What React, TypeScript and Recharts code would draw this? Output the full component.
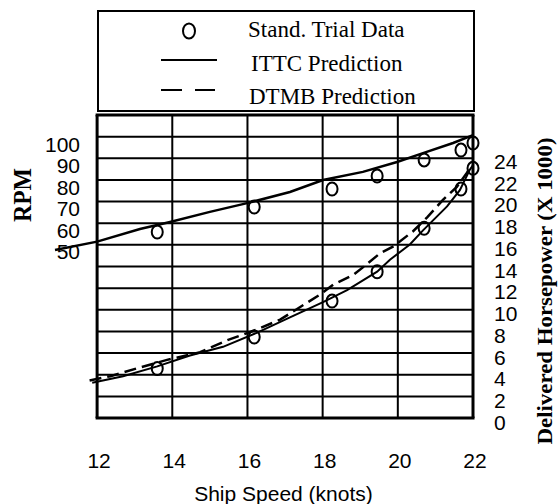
import React from 'react';
import { ComposedChart, Line, Scatter, XAxis, YAxis, Legend, Label } from 'recharts';

const xTicks = [12, 14, 16, 18, 20, 22];
const rpmTicks = [50, 60, 70, 80, 90, 100];
const hpTicks = [0, 2, 4, 6, 8, 10, 12, 14, 16, 18, 20, 22, 24];
const gridRows = [0, 1, 2, 3, 4, 5, 6, 7, 8, 9, 10, 11, 12, 13, 14];

const trialSpeed = [13.6, 16.18, 18.25, 19.45, 20.7, 21.68, 22.0];
const trialRpm = [59.3, 71.0, 79.4, 85.5, 93.0, 97.6, 100.9];
const trialHp = [5.0, 7.9, 11.2, 13.9, 17.9, 21.5, 23.4];

const ittcRpmSpeed = [10.88, 12.0, 13.14, 13.94, 15.0, 16.02, 17.13, 18.01, 19.07, 19.98, 20.67, 21.47, 22.0];
const ittcRpm = [50.9, 54.8, 60.7, 64.0, 68.7, 72.9, 78.0, 83.6, 87.4, 92.0, 96.2, 100.9, 104.6];

const ittcHpSpeed = [11.87, 12.69, 13.6, 14.47, 15.35, 16.26, 17.13, 18.01, 18.65, 19.45, 19.79, 20.32, 20.67, 21.31, 21.65, 21.92, 22.0];
const ittcHp = [3.7, 4.3, 5.2, 6.2, 7.0, 8.3, 9.7, 11.1, 12.2, 13.9, 15.0, 16.4, 17.7, 19.9, 21.4, 23.3, 23.7];

const dtmbHpSpeed = [11.8, 12.35, 13.14, 13.86, 14.74, 15.46, 16.26, 16.87, 17.93, 18.28, 18.81, 19.07, 19.53, 19.87, 20.4, 20.78, 21.2, 21.57, 21.84, 21.97];
const dtmbHp = [3.9, 4.3, 5.1, 5.8, 6.5, 7.6, 8.6, 9.5, 11.8, 12.7, 13.6, 14.3, 15.6, 16.2, 17.6, 18.9, 20.5, 21.7, 23.0, 23.7];

const trialRpmData = trialSpeed.map((x, i) => ({ x, rpm: trialRpm[i] }));
const trialHpData = trialSpeed.map((x, i) => ({ x, hp: trialHp[i] }));
const ittcRpmData = ittcRpmSpeed.map((x, i) => ({ x, rpm: ittcRpm[i] }));
const ittcHpData = ittcHpSpeed.map((x, i) => ({ x, hp: ittcHp[i] }));
const dtmbHpData = dtmbHpSpeed.map((x, i) => ({ x, hp: dtmbHp[i] }));

// grid of the scanned frame: rows across 12..22 knots, columns across the 14 row bands
const firstCol = xTicks[0];
const lastCol = xTicks[xTicks.length - 1];
const lastRow = gridRows[gridRows.length - 1];
const rowLines = gridRows.map((r) => [{ x: firstCol, g: r }, { x: lastCol, g: r }]);
const colLines = xTicks.map((c) => [{ x: c, g: 0 }, { x: c, g: lastRow }]);

const sans = 'Liberation Sans, Arial, sans-serif';
const serif = 'Liberation Serif, Times New Roman, serif';

const XTick = ({ x, y, payload }: any) => (
  <text x={x + 2} y={y} dy={45} textAnchor="middle" fontFamily={sans} fontSize={21} fill="#000">
    {payload.value}
  </text>
);

const LeftTick = ({ x, y, payload }: any) => (
  <text x={x + 28} y={y} dy={7} textAnchor="end" fontFamily={sans} fontSize={21} fill="#000">
    {payload.value}
  </text>
);

const RightTick = ({ x, y, payload }: any) => (
  <text x={x + 21} y={y} dy={7} textAnchor="start" fontFamily={sans} fontSize={21} fill="#000">
    {payload.value}
  </text>
);

const Circle = (props: any) => (
  <ellipse cx={props.cx} cy={props.cy} rx={5.5} ry={6.5} fill="none" stroke="#000" strokeWidth={2} />
);

const LegendBox = () => (
  <svg width={378} height={102}>
    <rect x={1} y={1} width={376} height={100} fill="#fff" stroke="#000" strokeWidth={2} />
    <ellipse cx={92} cy={21} rx={6} ry={7.5} fill="none" stroke="#000" strokeWidth={2} />
    <text x={151} y={27} fontFamily={serif} fontSize={23} fill="#000">Stand. Trial Data</text>
    <line x1={64} x2={120} y1={50} y2={50} stroke="#000" strokeWidth={2} />
    <text x={154} y={61} fontFamily={serif} fontSize={23} fill="#000">ITTC Prediction</text>
    <line x1={64} x2={118} y1={80} y2={80} stroke="#000" strokeWidth={2} strokeDasharray="21 13" />
    <text x={152} y={94} fontFamily={serif} fontSize={23} fill="#000">DTMB Prediction</text>
  </svg>
);

const RotTitle = ({ viewBox, dx, cy, text, size, length }: any) => {
  const cx = viewBox.x + dx;
  return (
    <text
      x={cx}
      y={cy}
      transform={`rotate(-90 ${cx} ${cy})`}
      textAnchor="middle"
      dominantBaseline="central"
      fontFamily={serif}
      fontWeight="bold"
      fontSize={size}
      textLength={length}
      lengthAdjust="spacingAndGlyphs"
      fill="#000"
    >
      {text}
    </text>
  );
};

export default function App() {
  return (
    <div style={{ position: 'absolute', left: 0, top: 0 }}>
      <ComposedChart width={558} height={504} margin={{ top: 115, right: 0, bottom: 0, left: 0 }}>
        <XAxis
          type="number"
          dataKey="x"
          domain={[10.8, 22]}
          ticks={xTicks}
          interval={0}
          height={81}
          tickSize={0}
          tickMargin={0}
          axisLine={false}
          tickLine={false}
          tick={<XTick />}
        >
          <Label
            value="Ship Speed (knots)"
            position="insideBottom"
            offset={3}
            dx={21}
            fontFamily={sans}
            fontSize={21}
            fill="#000"
          />
        </XAxis>
        <YAxis
          yAxisId="g"
          type="number"
          domain={[-0.23, 14]}
          ticks={gridRows}
          width={0}
          tick={false}
          axisLine={false}
          tickLine={false}
        />
        <YAxis
          yAxisId="rpm"
          dataKey="rpm"
          type="number"
          domain={[-30, 114]}
          ticks={rpmTicks}
          interval={0}
          width={52}
          tickSize={0}
          tickMargin={0}
          axisLine={false}
          tickLine={false}
          tick={<LeftTick />}
        >
          <Label content={(p: any) => <RotTitle {...p} dx={22} cy={195} text="RPM" size={26} length={54} />} />
        </YAxis>
        <YAxis
          yAxisId="hp"
          dataKey="hp"
          type="number"
          orientation="right"
          domain={[0, 28.3]}
          ticks={hpTicks}
          interval={0}
          width={85}
          tickSize={0}
          tickMargin={0}
          axisLine={false}
          tickLine={false}
          tick={<RightTick />}
        >
          <Label
            content={(p: any) => (
              <RotTitle {...p} dx={72} cy={291} text="Delivered Horsepower (X 1000)" size={21} length={307} />
            )}
          />
        </YAxis>

        {rowLines.map((seg, i) => (
          <Line
            key={'row' + i}
            yAxisId="g"
            data={seg}
            dataKey="g"
            type="linear"
            stroke="#000"
            strokeWidth={i === 0 || i === rowLines.length - 1 ? 3 : 2}
            strokeLinecap="square"
            dot={false}
            activeDot={false}
            isAnimationActive={false}
          />
        ))}
        {colLines.map((seg, i) => (
          <Line
            key={'col' + i}
            yAxisId="g"
            data={seg}
            dataKey="g"
            type="linear"
            stroke="#000"
            strokeWidth={i === 0 || i === colLines.length - 1 ? 3 : 2}
            dot={false}
            activeDot={false}
            isAnimationActive={false}
          />
        ))}

        <Line
          yAxisId="rpm"
          data={ittcRpmData}
          dataKey="rpm"
          type="linear"
          stroke="#000"
          strokeWidth={2.5}
          dot={false}
          isAnimationActive={false}
        />
        <Line
          yAxisId="hp"
          data={ittcHpData}
          dataKey="hp"
          type="linear"
          stroke="#000"
          strokeWidth={2}
          dot={false}
          isAnimationActive={false}
        />
        <Line
          yAxisId="hp"
          data={dtmbHpData}
          dataKey="hp"
          type="linear"
          stroke="#000"
          strokeWidth={2.5}
          strokeDasharray="12 6"
          dot={false}
          isAnimationActive={false}
        />
        <Scatter yAxisId="rpm" data={trialRpmData} shape={<Circle />} isAnimationActive={false} />
        <Scatter yAxisId="hp" data={trialHpData} shape={<Circle />} isAnimationActive={false} />

        <Legend
          layout="horizontal"
          verticalAlign="middle"
          align="center"
          content={() => <LegendBox />}
          wrapperStyle={{ left: 97, top: 10, width: 378, height: 102 }}
        />
      </ComposedChart>
    </div>
  );
}
